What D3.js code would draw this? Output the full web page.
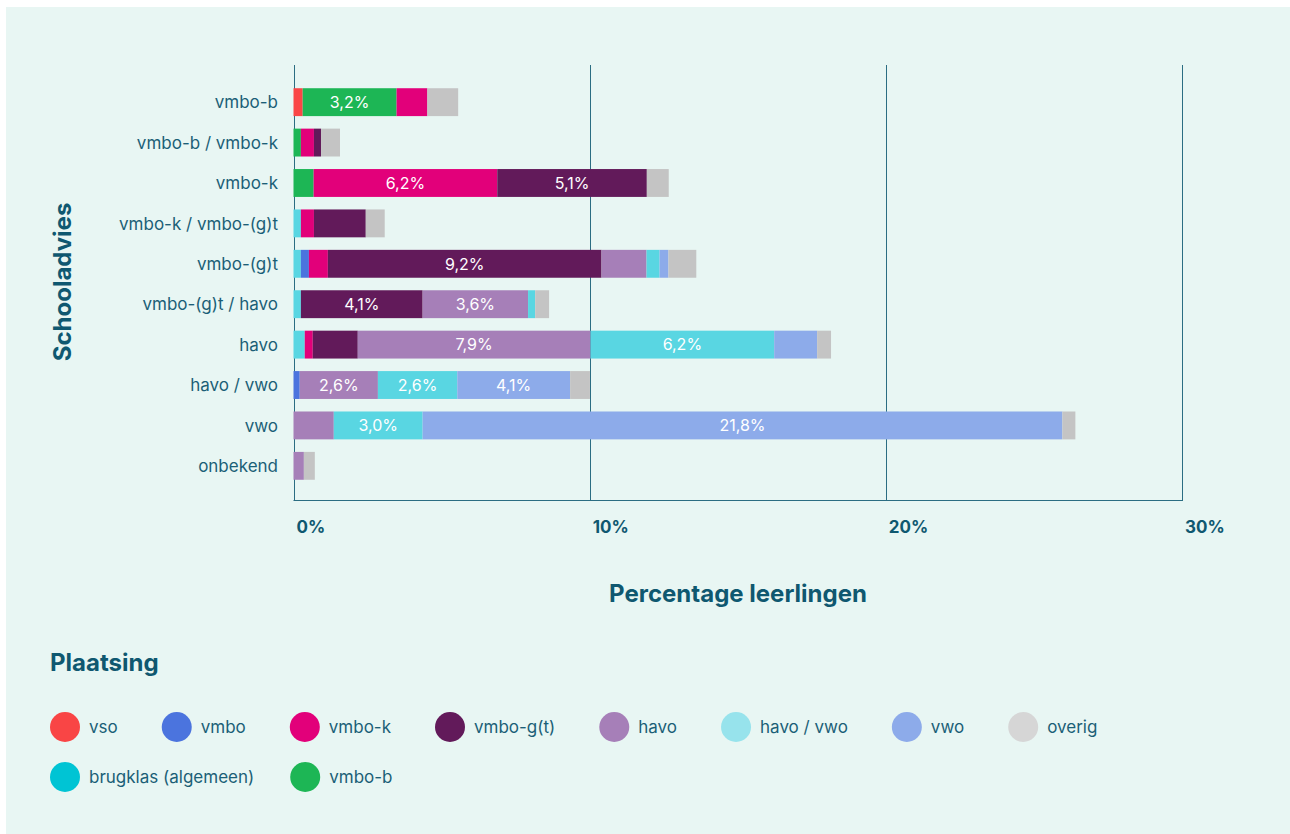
<!DOCTYPE html>
<head>
<meta charset="utf-8">
<style>
  body { margin:0; background:#fff; }
  svg { display:block; }
  text { font-family: Inter, "Open Sans", sans-serif; }
  .cat { font-size:17px; fill:#1b5f77; }
  .tick { font-size:17px; font-weight:700; fill:#0f5870; }
  .title { font-size:24px; font-weight:700; fill:#0f5870; }
  .leg { font-size:17px; fill:#1b5f77; }
  .lbl { font-size:16px; fill:#fff; }
</style>
<script src="https://d3js.org/d3.v7.min.js"></script>
</head>
<body>
<script>

var width = 1290;
var height = 834;

// schooladvies (rows)
var categories = ["vmbo-b", "vmbo-b / vmbo-k", "vmbo-k", "vmbo-k / vmbo-(g)t", "vmbo-(g)t",
                  "vmbo-(g)t / havo", "havo", "havo / vwo", "vwo", "onbekend"];

// plaatsing (stack order left to right)
var series = ["brugklas", "vso", "vmbo", "vmbo-b", "vmbo-k", "vmbo-g(t)", "havo", "havo / vwo", "vwo", "overig"];

var brugklas = [0, 0, 0, 0.25, 0.25, 0.25, 0.38, 0, 0, 0];
var vso      = [0.31, 0, 0, 0, 0, 0, 0, 0, 0, 0];
var vmbo     = [0, 0, 0, 0, 0.27, 0, 0, 0.21, 0, 0];
var vmbob    = [3.17, 0.25, 0.68, 0, 0, 0, 0, 0, 0, 0];
var vmbok    = [1.04, 0.44, 6.2, 0.44, 0.64, 0, 0.27, 0, 0, 0];
var vmbogt   = [0, 0.24, 5.05, 1.75, 9.24, 4.11, 1.52, 0, 0, 0];
var havo     = [0, 0, 0, 0, 1.52, 3.56, 7.86, 2.64, 1.36, 0.35];
var havovwo  = [0, 0, 0, 0, 0.44, 0.24, 6.2, 2.68, 3.0, 0];
var vwo      = [0, 0, 0, 0, 0.3, 0, 1.45, 3.81, 21.6, 0];
var overig   = [1.04, 0.64, 0.74, 0.64, 0.94, 0.47, 0.47, 0.67, 0.44, 0.37];

var values = [brugklas, vso, vmbo, vmbob, vmbok, vmbogt, havo, havovwo, vwo, overig];

var barColors = ["#59d6e2", "#fa4646", "#4b74de", "#1db655", "#e2007a", "#621a5a",
                 "#a67fb8", "#59d6e2", "#8dabea", "#c4c4c4"];

// labels printed inside the bars: [row, series, text]
var barLabels = [
    ["vmbo-b", "vmbo-b", "3,2%"],
    ["vmbo-k", "vmbo-k", "6,2%"],
    ["vmbo-k", "vmbo-g(t)", "5,1%"],
    ["vmbo-(g)t", "vmbo-g(t)", "9,2%"],
    ["vmbo-(g)t / havo", "vmbo-g(t)", "4,1%"],
    ["vmbo-(g)t / havo", "havo", "3,6%"],
    ["havo", "havo", "7,9%"],
    ["havo", "havo / vwo", "6,2%"],
    ["havo / vwo", "havo", "2,6%"],
    ["havo / vwo", "havo / vwo", "2,6%"],
    ["havo / vwo", "vwo", "4,1%"],
    ["vwo", "havo / vwo", "3,0%"],
    ["vwo", "vwo", "21,8%"]
];

var legendNames  = ["vso", "vmbo", "vmbo-k", "vmbo-g(t)", "havo", "havo / vwo", "vwo", "overig",
                    "brugklas (algemeen)", "vmbo-b"];
var legendColors = ["#f94545", "#4b74de", "#e2007a", "#621a5a", "#a67fb8", "#97e3ec", "#8dabea", "#d6d6d6",
                    "#00c4d4", "#1db655"];

var xTicks = [0, 10, 20, 30];

var svg = d3.select("body").append("svg")
    .attr("width", width)
    .attr("height", height);

svg.append("rect")
    .attr("x", 6).attr("y", 7)
    .attr("width", width - 6).attr("height", height - 7)
    .attr("fill", "#e8f6f3");

var x = d3.scaleLinear().domain([0, 30]).range([293.5, 1182]);
var y = d3.scaleBand().domain(categories).range([66, 502]).paddingInner(0.31).paddingOuter(0.55);

// table for stacking
var table = categories.map(function(c, i) {
    var row = {cat: c};
    series.forEach(function(s, j) { row[s] = values[j][i]; });
    return row;
});
var stacked = d3.stack().keys(series)(table);

// grid
var grid = svg.append("g");
grid.selectAll("line.v")
    .data(xTicks)
    .enter().append("line")
    .attr("x1", function(d) { return Math.round(x(d)) + 0.5; })
    .attr("x2", function(d) { return Math.round(x(d)) + 0.5; })
    .attr("y1", 65).attr("y2", 500)
    .attr("stroke", "#2b6d82").attr("stroke-width", 1);
grid.append("line")
    .attr("x1", x(0)).attr("x2", x(30) + 1)
    .attr("y1", 500.5).attr("y2", 500.5)
    .attr("stroke", "#2b6d82").attr("stroke-width", 1);

// bars
svg.append("g")
  .selectAll("g")
  .data(stacked)
  .enter().append("g")
    .attr("fill", function(d, i) { return barColors[i]; })
  .selectAll("rect")
  .data(function(d) { return d; })
  .enter().append("rect")
    .attr("x", function(d) { return x(d[0]); })
    .attr("width", function(d) { return x(d[1]) - x(d[0]); })
    .attr("y", function(d) { return y(d.data.cat); })
    .attr("height", y.bandwidth());

// labels inside bars
svg.append("g")
  .selectAll("text")
  .data(barLabels)
  .enter().append("text")
    .attr("class", "lbl")
    .attr("text-anchor", "middle")
    .attr("dy", "0.36em")
    .attr("x", function(d) {
        var s = stacked[series.indexOf(d[1])][categories.indexOf(d[0])];
        return (x(s[0]) + x(s[1])) / 2;
    })
    .attr("y", function(d) { return y(d[0]) + y.bandwidth() / 2; })
    .text(function(d) { return d[2]; });

// category labels
svg.append("g")
  .selectAll("text")
  .data(categories)
  .enter().append("text")
    .attr("class", "cat")
    .attr("text-anchor", "end")
    .attr("x", 278)
    .attr("y", function(d) { return y(d) + y.bandwidth() / 2; })
    .attr("dy", "0.36em")
    .text(function(d) { return d; });

// x tick labels (left aligned on the grid line)
svg.append("g")
  .selectAll("text")
  .data(xTicks)
  .enter().append("text")
    .attr("class", "tick")
    .attr("x", function(d) { return x(d) + 3; })
    .attr("y", 533)
    .text(function(d) { return d + "%"; });

// axis titles
svg.append("text")
    .attr("class", "title")
    .attr("text-anchor", "middle")
    .attr("x", 738).attr("y", 602)
    .text("Percentage leerlingen");

svg.append("text")
    .attr("class", "title")
    .attr("text-anchor", "middle")
    .attr("transform", "translate(71,282) rotate(-90)")
    .text("Schooladvies");

// legend
svg.append("text")
    .attr("class", "title")
    .attr("x", 50).attr("y", 671)
    .text("Plaatsing");

var lg = svg.append("g");
var lx = 50, ly = 727;
legendNames.forEach(function(name, i) {
    if (i == 8) { lx = 50; ly = 777; }
    lg.append("circle")
        .attr("cx", lx + 15).attr("cy", ly).attr("r", 15)
        .attr("fill", legendColors[i]);
    var t = lg.append("text")
        .attr("class", "leg")
        .attr("x", lx + 39).attr("y", ly)
        .attr("dy", "0.36em")
        .text(name);
    lx = lx + 39 + t.node().getComputedTextLength() + (ly > 750 ? 36 : 44);
});

</script>
</body>
